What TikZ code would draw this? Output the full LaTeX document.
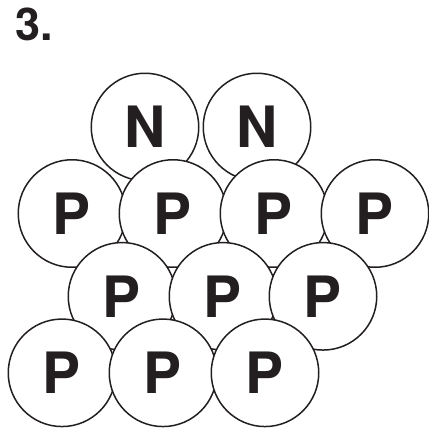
\documentclass[tikz,border=0pt]{standalone}
\usepackage{fontspec}
\setmainfont{TeX Gyre Heros}
\usepackage{tikz}
\definecolor{ink}{HTML}{231F20}

\begin{document}
\begin{tikzpicture}[x=1pt,y=-1pt,
    nucleon/.style={circle,draw=ink,fill=white,line width=1.5pt,minimum size=107.5pt,inner sep=0pt,text=ink,font=\fontsize{57}{57}\selectfont\bfseries}]
    \useasboundingbox (0,0) rectangle (429,429);
    \node[anchor=base west,text=ink,inner sep=0pt,font=\fontsize{45}{45}\selectfont\bfseries] (num) at (15,40.7) {3.};
    % neutrons
    \node[nucleon] (n1) at (145,127) {N};
    \node[nucleon] (n2) at (257,127) {N};
    % protons, row by row
    \node[nucleon] (p1) at (72,213.5) {P};
    \node[nucleon] (p2) at (173,213.5) {P};
    \node[nucleon] (p3) at (274,213.5) {P};
    \node[nucleon] (p4) at (375,213.5) {P};
    \node[nucleon] (p5) at (122,296.3) {P};
    \node[nucleon] (p6) at (223,296.3) {P};
    \node[nucleon] (p7) at (323,296.3) {P};
    \node[nucleon] (p8) at (62,372.8) {P};
    \node[nucleon] (p9) at (163,372.8) {P};
    \node[nucleon] (p10) at (265,372.8) {P};
\end{tikzpicture}
\end{document}
